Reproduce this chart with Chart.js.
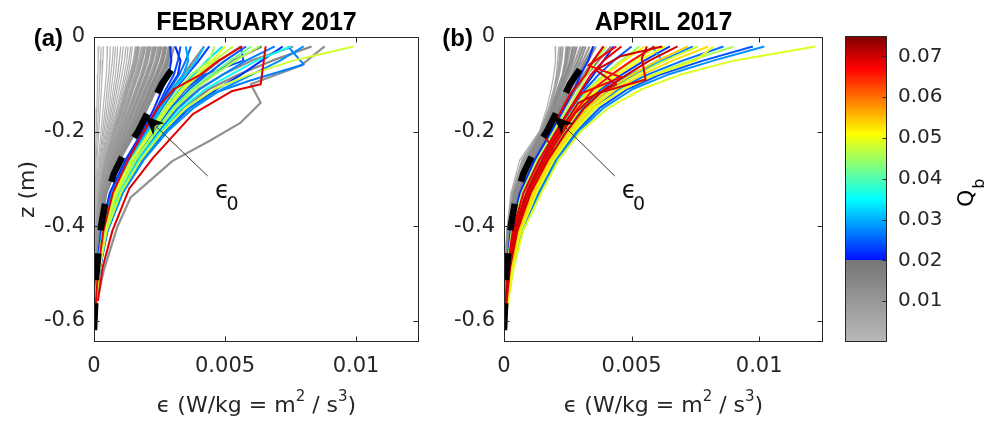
<!DOCTYPE html>
<html>
<head>
<meta charset="utf-8">
<title>Dissipation profiles</title>
<script src="https://cdn.jsdelivr.net/npm/chart.js@4.4.1/dist/chart.umd.min.js"></script>
<style>
  html, body { margin: 0; padding: 0; background: #fff; width: 999px; height: 425px; overflow: hidden; }
  canvas { position: absolute; top: 0; }
  #ca { left: 0; }
  #cb { left: 420px; }
  #cc { left: 830px; }
</style>
</head>
<body>
<canvas id="ca" width="420" height="425"></canvas>
<canvas id="cb" width="420" height="425"></canvas>
<canvas id="cc" width="169" height="425"></canvas>
<script>
// ---------------------------------------------------------------------------
// Data. Dissipation values are stored in units of 1e-3 W/kg.
// ---------------------------------------------------------------------------

// depth levels (m) of the regular profiles
const Z = [-0.02, -0.05, -0.08, -0.11, -0.15, -0.20, -0.26, -0.33, -0.41, -0.49, -0.57];

// ε0 reference profile
const EPS0_Z = [-0.62, -0.56, -0.51, -0.45, -0.40, -0.35, -0.29, -0.24, -0.20, -0.15, -0.10, -0.05];
const EPS0   = [0.0, 0.05, 0.08, 0.18, 0.27, 0.43, 0.75, 1.2, 1.68, 2.14, 2.58, 3.2];

// ε0 call-out (ε in W/kg, z in m)
const ARROW_TIP  = [0.00195, -0.167];
const ARROW_TAIL = [0.00434, -0.294];
const EPS0_LABEL_AT = [0.0049, -0.334];

// axes
const X_TICKS = [0, 0.005, 0.01];
const X_TICK_LABELS = ['0', '0.005', '0.01'];
const Y_TICKS = [-0.6, -0.4, -0.2, 0];
const Y_TICK_LABELS = ['-0.6', '-0.4', '-0.2', '0'];
const Y_MIN = -0.645;
const X_MAX_FEB = 0.0124;
const X_MAX_APR = 0.0125;
// x-axis title pieces: [text, isSuperscript]
const X_TITLE_PARTS = [['ϵ (W/kg = m', false], ['2', true], [' / s', false], ['3', true], [')', false]];
const Y_TITLE = 'z (m)';

// colour bar (Q_b)
const QB_SPLIT = 0.02;
const QB_MAX = 0.075;
const CB_TICKS = [0.01, 0.02, 0.03, 0.04, 0.05, 0.06, 0.07];
const CB_TICK_LABELS = ['0.01', '0.02', '0.03', '0.04', '0.05', '0.06', '0.07'];

// ---- February 2017: profiles with Q_b below 0.02 (on Z) ----
const FEB_GRAY = [
  [0.18, 0.16, 0.15, 0.13, 0.11, 0.08, 0.05, 0.03, 0.01, 0.0, 0.0],
  [0.27, 0.25, 0.23, 0.2, 0.17, 0.13, 0.08, 0.05, 0.02, 0.01, 0.0],
  [0.36, 0.34, 0.31, 0.28, 0.24, 0.18, 0.12, 0.07, 0.03, 0.01, 0.0],
  [0.52, 0.5, 0.47, 0.42, 0.35, 0.27, 0.17, 0.09, 0.04, 0.02, 0.01],
  [0.62, 0.6, 0.56, 0.5, 0.43, 0.33, 0.21, 0.11, 0.05, 0.02, 0.01],
  [0.74, 0.7, 0.64, 0.58, 0.5, 0.38, 0.24, 0.12, 0.05, 0.02, 0.01],
  [0.82, 0.78, 0.73, 0.66, 0.57, 0.43, 0.27, 0.14, 0.06, 0.02, 0.01],
  [0.9, 0.87, 0.82, 0.74, 0.63, 0.48, 0.3, 0.15, 0.07, 0.03, 0.01],
  [1.02, 0.97, 0.9, 0.81, 0.69, 0.52, 0.33, 0.16, 0.07, 0.03, 0.01],
  [1.12, 1.06, 0.98, 0.88, 0.75, 0.57, 0.35, 0.17, 0.08, 0.03, 0.01],
  [1.22, 1.16, 1.07, 0.96, 0.81, 0.61, 0.37, 0.18, 0.08, 0.03, 0.01],
  [1.3, 1.25, 1.16, 1.04, 0.88, 0.64, 0.39, 0.19, 0.08, 0.03, 0.01],
  [1.4, 1.33, 1.23, 1.1, 0.92, 0.68, 0.41, 0.19, 0.08, 0.03, 0.01],
  [1.46, 1.4, 1.3, 1.16, 0.97, 0.71, 0.43, 0.2, 0.09, 0.04, 0.01],
  [1.6, 1.52, 1.38, 1.22, 1.02, 0.74, 0.44, 0.21, 0.09, 0.04, 0.01],
  [1.66, 1.57, 1.43, 1.27, 1.06, 0.77, 0.45, 0.21, 0.1, 0.04, 0.01],
  [1.72, 1.63, 1.48, 1.31, 1.1, 0.8, 0.47, 0.22, 0.1, 0.04, 0.01],
  [1.83, 1.72, 1.57, 1.4, 1.17, 0.86, 0.51, 0.24, 0.11, 0.05, 0.02],
  [1.89, 1.78, 1.62, 1.44, 1.21, 0.9, 0.53, 0.25, 0.11, 0.05, 0.02],
  [1.95, 1.84, 1.68, 1.49, 1.25, 0.93, 0.55, 0.26, 0.12, 0.05, 0.02],
  [2.04, 1.95, 1.79, 1.6, 1.34, 1.0, 0.6, 0.28, 0.13, 0.05, 0.02],
  [2.1, 2.0, 1.83, 1.63, 1.37, 1.03, 0.62, 0.29, 0.13, 0.05, 0.02],
  [2.15, 2.04, 1.87, 1.67, 1.41, 1.06, 0.64, 0.3, 0.14, 0.06, 0.02],
  [2.24, 2.15, 1.97, 1.76, 1.49, 1.13, 0.69, 0.32, 0.15, 0.06, 0.02],
  [2.3, 2.2, 2.01, 1.8, 1.52, 1.16, 0.71, 0.33, 0.15, 0.06, 0.02],
  [2.36, 2.24, 2.06, 1.84, 1.56, 1.19, 0.73, 0.34, 0.16, 0.07, 0.02],
  [2.45, 2.35, 2.16, 1.93, 1.64, 1.26, 0.77, 0.36, 0.17, 0.07, 0.03],
  [2.5, 2.4, 2.2, 1.97, 1.68, 1.29, 0.79, 0.37, 0.17, 0.07, 0.03],
  [2.57, 2.44, 2.25, 2.01, 1.71, 1.32, 0.81, 0.38, 0.18, 0.08, 0.03],
  [2.66, 2.55, 2.35, 2.1, 1.79, 1.38, 0.85, 0.4, 0.19, 0.08, 0.03],
  [2.71, 2.6, 2.39, 2.14, 1.83, 1.42, 0.87, 0.41, 0.19, 0.08, 0.03],
  [2.76, 2.64, 2.43, 2.18, 1.86, 1.45, 0.89, 0.42, 0.2, 0.08, 0.03],
  [2.86, 2.74, 2.52, 2.26, 1.93, 1.51, 0.92, 0.44, 0.21, 0.09, 0.03],
  [2.9, 2.79, 2.56, 2.3, 1.96, 1.54, 0.94, 0.45, 0.21, 0.09, 0.03],
  [2.95, 2.84, 2.6, 2.33, 1.99, 1.56, 0.95, 0.46, 0.22, 0.09, 0.04],
  [3.05, 2.92, 2.67, 2.39, 2.04, 1.6, 0.98, 0.47, 0.23, 0.1, 0.04],
  [4.2, 3.8, 3.4, 3.0, 2.55, 2.0, 1.35, 0.72, 0.33, 0.13, 0.05],
  [5.6, 4.8, 4.1, 3.5, 2.85, 2.2, 1.48, 0.82, 0.38, 0.16, 0.06],
  [7.6, 6.0, 4.9, 4.0, 3.15, 2.4, 1.6, 0.9, 0.42, 0.18, 0.07],
  [8.3, 6.8, 5.5, 4.4, 3.4, 2.6, 1.74, 0.98, 0.46, 0.2, 0.08],
  [6.4, 5.3, 4.5, 3.8, 3.0, 2.3, 1.55, 0.86, 0.4, 0.17, 0.06]
];
const FEB_GRAY_QB = [0.001, 0.002, 0.002, 0.001, 0.003, 0.003, 0.002, 0.002,
  0.004, 0.004, 0.003, 0.003, 0.004, 0.004, 0.006, 0.007, 0.008, 0.005, 0.006,
  0.009, 0.007, 0.009, 0.010, 0.006, 0.010, 0.011, 0.008, 0.008, 0.012, 0.009,
  0.012, 0.013, 0.010, 0.011, 0.014, 0.011, 0.014, 0.016, 0.012, 0.015, 0.018];

// ---- February 2017: profiles with Q_b of 0.02 and above (on Z) ----
const FEB_COLOR = [
  [2.9, 2.95, 2.85, 2.6, 2.3, 1.85, 1.2, 0.6, 0.27, 0.11, 0.05],
  [3.3, 3.2, 3.05, 2.75, 2.4, 1.92, 1.26, 0.65, 0.3, 0.12, 0.05],
  [3.7, 3.5, 3.25, 2.9, 2.5, 2.0, 1.32, 0.7, 0.32, 0.13, 0.05],
  [4.4, 4.0, 3.55, 3.1, 2.62, 2.08, 1.38, 0.74, 0.34, 0.14, 0.06],
  [4.9, 4.3, 3.8, 3.3, 2.75, 2.16, 1.44, 0.78, 0.36, 0.15, 0.06],
  [5.3, 4.6, 4.0, 3.45, 2.85, 2.22, 1.48, 0.82, 0.38, 0.16, 0.06],
  [5.8, 5.0, 4.3, 3.65, 2.97, 2.3, 1.54, 0.86, 0.4, 0.17, 0.07],
  [6.3, 5.4, 4.6, 3.85, 3.1, 2.38, 1.6, 0.9, 0.42, 0.18, 0.07],
  [6.9, 5.8, 4.9, 4.05, 3.22, 2.46, 1.66, 0.94, 0.44, 0.19, 0.07],
  [7.5, 6.2, 5.2, 4.25, 3.35, 2.54, 1.72, 0.98, 0.46, 0.2, 0.08],
  [9.9, 7.6, 5.9, 4.6, 3.5, 2.62, 1.78, 1.02, 0.48, 0.21, 0.08],
  [7.2, 6.4, 5.6, 4.7, 3.65, 2.72, 1.84, 1.06, 0.5, 0.22, 0.08],
  [4.2, 3.9, 3.5, 3.05, 2.55, 2.04, 1.36, 0.72, 0.33, 0.13, 0.05],
  [5.0, 4.5, 3.9, 3.35, 2.78, 2.18, 1.46, 0.8, 0.37, 0.15, 0.06],
  [3.5, 3.6, 3.4, 3.0, 2.55, 2.02, 1.34, 0.7, 0.32, 0.13, 0.05],
  [3.1, 3.3, 3.2, 2.85, 2.45, 1.95, 1.28, 0.67, 0.3, 0.12, 0.05],
  [6.0, 5.2, 4.45, 3.75, 3.02, 2.34, 1.57, 0.88, 0.41, 0.17, 0.07],
  [8.0, 7.1, 6.0, 4.9, 3.8, 2.8, 1.9, 1.1, 0.52, 0.22, 0.08],
  [5.6, 5.7, 4.2, 3.5, 2.9, 2.25, 1.5, 0.84, 0.39, 0.16, 0.06],
  [4.6, 4.4, 3.7, 3.2, 2.68, 2.12, 1.42, 0.76, 0.35, 0.14, 0.06],
  [5.66, 4.75, 4.05, 3.05, 2.42, 1.9, 1.3, 0.72, 0.36, 0.16, 0.06]
];
const FEB_COLOR_QB = [0.022, 0.024, 0.026, 0.023, 0.033, 0.047, 0.025, 0.046,
  0.027, 0.036, 0.048, 0.022, 0.031, 0.049, 0.029, 0.021, 0.042, 0.028, 0.024,
  0.045, 0.068];

// ---- February 2017: profiles sampled on their own depths ----
const FEB_EXTRA_Z = [
  [-0.02, -0.06, -0.10, -0.139, -0.181, -0.22, -0.262, -0.339, -0.403, -0.494, -0.55],
  [-0.02, -0.058, -0.093, -0.12, -0.16, -0.21, -0.27, -0.34, -0.42, -0.50, -0.57],
  [-0.02, -0.10, -0.114, -0.163, -0.255, -0.32, -0.41, -0.487, -0.558]
];
const FEB_EXTRA_EPS = [
  [8.8, 7.9, 5.98, 6.36, 5.6, 4.4, 3.0, 1.4, 0.88, 0.37, 0.15],
  [7.4, 8.0, 5.9, 4.5, 3.4, 2.55, 1.72, 0.97, 0.45, 0.19, 0.07],
  [6.55, 6.36, 5.28, 3.77, 2.26, 1.35, 0.7, 0.33, 0.15]
];
const FEB_EXTRA_QB = [0.012, 0.027, 0.069];

// ---- April 2017: profiles with Q_b below 0.02 (on Z) ----
const APR_GRAY = [
  [2.0, 2.02, 1.95, 1.85, 1.68, 1.38, 0.62, 0.27, 0.11, 0.04, 0.01],
  [2.15, 2.1, 2.05, 1.95, 1.75, 1.42, 0.7, 0.31, 0.12, 0.05, 0.01],
  [2.22, 2.18, 2.1, 1.98, 1.78, 1.43, 0.74, 0.33, 0.13, 0.05, 0.01],
  [2.3, 2.25, 2.15, 2.0, 1.8, 1.44, 0.78, 0.35, 0.14, 0.05, 0.02],
  [2.45, 2.4, 2.3, 2.1, 1.85, 1.47, 0.84, 0.38, 0.15, 0.06, 0.02],
  [2.52, 2.45, 2.32, 2.12, 1.88, 1.48, 0.86, 0.39, 0.16, 0.06, 0.02],
  [2.6, 2.5, 2.35, 2.15, 1.9, 1.5, 0.88, 0.4, 0.17, 0.06, 0.02],
  [2.7, 2.6, 2.42, 2.2, 1.95, 1.55, 0.92, 0.42, 0.18, 0.07, 0.02],
  [2.78, 2.65, 2.46, 2.24, 1.98, 1.57, 0.94, 0.44, 0.19, 0.07, 0.02],
  [2.85, 2.7, 2.5, 2.28, 2.0, 1.58, 0.95, 0.45, 0.19, 0.07, 0.02],
  [3.0, 2.8, 2.55, 2.3, 2.02, 1.6, 0.98, 0.47, 0.2, 0.08, 0.02],
  [3.1, 2.9, 2.65, 2.4, 2.08, 1.65, 1.0, 0.5, 0.22, 0.08, 0.03],
  [3.2, 3.0, 2.72, 2.46, 2.12, 1.68, 1.03, 0.52, 0.23, 0.09, 0.03],
  [3.35, 3.1, 2.8, 2.52, 2.16, 1.72, 1.06, 0.54, 0.24, 0.09, 0.03],
  [3.5, 3.2, 2.9, 2.58, 2.2, 1.75, 1.1, 0.56, 0.25, 0.1, 0.03],
  [3.6, 3.3, 2.95, 2.62, 2.22, 1.78, 1.12, 0.58, 0.26, 0.1, 0.03],
  [3.9, 3.5, 3.1, 2.72, 2.3, 1.84, 1.18, 0.62, 0.28, 0.11, 0.04],
  [4.2, 3.7, 3.25, 2.82, 2.38, 1.9, 1.22, 0.66, 0.3, 0.12, 0.04]
];
const APR_GRAY_QB = [0.003, 0.004, 0.007, 0.006, 0.009, 0.012, 0.005, 0.014,
  0.009, 0.011, 0.007, 0.013, 0.011, 0.008, 0.015, 0.010, 0.012, 0.016];

// ---- April 2017: profiles with Q_b of 0.02 and above (on Z) ----
const APR_COLOR = [
  [3.5, 3.3, 3.0, 2.75, 2.35, 1.85, 1.2, 0.62, 0.26, 0.1, 0.04],
  [4.0, 3.6, 3.25, 2.95, 2.5, 1.95, 1.3, 0.7, 0.3, 0.12, 0.05],
  [4.6, 3.9, 3.4, 3.05, 2.6, 2.05, 1.38, 0.76, 0.34, 0.14, 0.05],
  [5.0, 4.3, 3.7, 3.2, 2.7, 2.1, 1.45, 0.82, 0.38, 0.16, 0.06],
  [5.5, 4.7, 4.0, 3.4, 2.8, 2.2, 1.52, 0.88, 0.41, 0.18, 0.06],
  [6.0, 5.1, 4.3, 3.6, 2.95, 2.3, 1.6, 0.94, 0.45, 0.2, 0.07],
  [6.5, 5.5, 4.6, 3.8, 3.05, 2.38, 1.66, 0.99, 0.48, 0.21, 0.07],
  [6.8, 5.7, 4.8, 3.95, 3.15, 2.45, 1.72, 1.04, 0.52, 0.23, 0.08],
  [7.2, 6.0, 5.0, 4.1, 3.25, 2.52, 1.78, 1.1, 0.55, 0.25, 0.08],
  [7.6, 6.3, 5.2, 4.25, 3.35, 2.6, 1.84, 1.16, 0.58, 0.27, 0.09],
  [8.6, 7.0, 5.6, 4.5, 3.5, 2.7, 1.9, 1.22, 0.62, 0.29, 0.1],
  [9.0, 7.3, 5.8, 4.65, 3.6, 2.76, 1.96, 1.28, 0.66, 0.31, 0.1],
  [9.75, 7.8, 6.1, 4.85, 3.75, 2.84, 2.02, 1.34, 0.69, 0.33, 0.11],
  [10.2, 8.2, 6.4, 5.05, 3.9, 2.92, 2.08, 1.4, 0.72, 0.35, 0.12],
  [12.2, 9.0, 6.9, 5.4, 4.1, 3.0, 2.14, 1.46, 0.75, 0.37, 0.13],
  [8.0, 6.6, 5.4, 4.4, 3.45, 2.66, 1.88, 1.2, 0.6, 0.28, 0.09],
  [4.3, 3.9, 3.5, 3.1, 2.6, 2.0, 1.34, 0.72, 0.32, 0.13, 0.05],
  [5.3, 4.6, 3.9, 3.3, 2.75, 2.15, 1.48, 0.84, 0.39, 0.17, 0.06],
  [5.9, 5.0, 4.2, 3.5, 2.9, 2.25, 1.56, 0.9, 0.43, 0.19, 0.07],
  [6.3, 5.3, 4.45, 3.7, 3.0, 2.34, 1.62, 0.96, 0.46, 0.2, 0.07],
  [7.4, 6.2, 5.1, 4.15, 3.3, 2.56, 1.8, 1.12, 0.56, 0.26, 0.08],
  [8.2, 7.5, 5.9, 4.7, 3.55, 2.72, 1.92, 1.25, 0.64, 0.3, 0.1],
  [5.8, 6.2, 4.9, 3.9, 3.1, 2.4, 1.68, 1.0, 0.5, 0.22, 0.07]
];
const APR_COLOR_QB = [0.022, 0.046, 0.068, 0.025, 0.052, 0.047, 0.023, 0.070,
  0.054, 0.048, 0.026, 0.046, 0.024, 0.028, 0.049, 0.053, 0.022, 0.045, 0.066,
  0.051, 0.027, 0.050, 0.030];

// ---- April 2017: profiles sampled on their own depths ----
const APR_EXTRA_Z = [
  [-0.02, -0.045, -0.09, -0.12, -0.16, -0.21, -0.27, -0.34, -0.42, -0.50, -0.57],
  [-0.02, -0.06, -0.085, -0.12, -0.16, -0.21, -0.27, -0.34, -0.42, -0.50, -0.57],
  [-0.02, -0.04, -0.07, -0.10, -0.14, -0.19, -0.25, -0.32, -0.40, -0.48, -0.57],
  [-0.02, -0.05, -0.08, -0.12, -0.17, -0.21, -0.24, -0.30, -0.37, -0.45, -0.57]
];
const APR_EXTRA_EPS = [
  [5.6, 5.4, 5.55, 3.6, 2.8, 2.2, 1.5, 0.9, 0.42, 0.18, 0.06],
  [4.4, 3.3, 4.6, 3.0, 2.5, 2.0, 1.4, 0.8, 0.36, 0.15, 0.05],
  [6.2, 4.6, 3.6, 4.4, 2.9, 2.3, 1.6, 0.95, 0.45, 0.2, 0.06],
  [3.9, 3.5, 3.2, 2.6, 2.1, 1.6, 1.95, 1.2, 0.65, 0.3, 0.06]
];
const APR_EXTRA_QB = [0.069, 0.067, 0.070, 0.068];

// ---------------------------------------------------------------------------
// Styling and helpers
// ---------------------------------------------------------------------------
const FONT = "'DejaVu Sans', sans-serif";
const BOLD_FONT = "'Liberation Sans', Arial, sans-serif";
const AXIS_COLOR = '#262626';
const EPS_SCALE = 1e-3;

Chart.defaults.font.family = FONT;
Chart.defaults.color = AXIS_COLOR;

function clamp01(v) { return Math.max(0, Math.min(1, v)); }
function jet(t) {
  const c = v => Math.round(255 * clamp01(v));
  return 'rgb(' + c(1.5 - Math.abs(4 * t - 3)) + ',' + c(1.5 - Math.abs(4 * t - 2)) + ',' + c(1.5 - Math.abs(4 * t - 1)) + ')';
}
// colour scale: gray ramp below the breaking threshold, jet above it
function qbColor(q) {
  if (q < QB_SPLIT) {
    const g = Math.round(185 - (185 - 118) * Math.max(0, q) / QB_SPLIT);
    return 'rgb(' + g + ',' + g + ',' + g + ')';
  }
  return jet(0.14 + 0.86 * (q - QB_SPLIT) / (QB_MAX - QB_SPLIT));
}
// line width by class: faint profiles thin, the rest a little heavier
function lineWidth(q) {
  if (q < 0.005) return 1.2;
  if (q < QB_SPLIT) return 2.2;
  return 2;
}

function buildDatasets(gray, grayQb, color, colorQb, extraZ, extraEps, extraQb) {
  const items = [];
  gray.forEach((e, i) => items.push({ z: Z, e, q: grayQb[i] }));
  color.forEach((e, i) => items.push({ z: Z, e, q: colorQb[i] }));
  extraEps.forEach((e, i) => items.push({ z: extraZ[i], e, q: extraQb[i] }));
  items.sort((a, b) => a.q - b.q);
  const sets = items.map(it => ({
    data: it.e.map((v, k) => ({ x: v * EPS_SCALE, y: it.z[k] })),
    borderColor: qbColor(it.q),
    borderWidth: lineWidth(it.q),
    borderJoinStyle: 'round',
    pointRadius: 0,
    showLine: true,
    tension: 0
  }));
  sets.push({
    data: EPS0.map((v, k) => ({ x: v * EPS_SCALE, y: EPS0_Z[k] })),
    borderColor: '#000',
    borderWidth: 6.5,
    borderDash: [27, 23],
    borderCapStyle: 'butt',
    pointRadius: 0,
    showLine: true,
    tension: 0
  });
  const n = sets.length;
  sets.forEach((s, i) => { s.order = n - i; });
  return sets;
}

// box with inward ticks on all four sides
const framePlugin = {
  id: 'frame',
  afterDatasetsDraw(chart) {
    const { ctx, chartArea: a, scales: { x, y } } = chart;
    const L = Math.round(a.left) + 0.5, R = Math.round(a.right) - 0.5;
    const T = Math.round(a.top) + 0.5, B = Math.round(a.bottom) - 0.5;
    ctx.save();
    ctx.strokeStyle = AXIS_COLOR;
    ctx.lineWidth = 1;
    ctx.strokeRect(L, T, R - L, B - T);
    ctx.beginPath();
    x.ticks.forEach(t => {
      const px = Math.round(x.getPixelForValue(t.value)) + 0.5;
      ctx.moveTo(px, B); ctx.lineTo(px, B - 5);
      ctx.moveTo(px, T); ctx.lineTo(px, T + 5);
    });
    y.ticks.forEach(t => {
      const py = Math.round(y.getPixelForValue(t.value)) + 0.5;
      ctx.moveTo(L, py); ctx.lineTo(L + 5, py);
      ctx.moveTo(R, py); ctx.lineTo(R - 5, py);
    });
    ctx.stroke();
    ctx.restore();
  }
};

// panel title, panel tag, x-axis title and the ε0 call-out
const decorPlugin = {
  id: 'decor',
  afterDraw(chart, args, opts) {
    const { ctx, chartArea: a, scales: { x, y } } = chart;
    ctx.save();
    ctx.fillStyle = '#000';
    ctx.textBaseline = 'middle';
    ctx.textAlign = 'center';
    ctx.font = 'bold 25px ' + BOLD_FONT;
    ctx.fillText(opts.title, (a.left + a.right) / 2, 23);
    ctx.textAlign = 'right';
    ctx.font = 'bold 24px ' + BOLD_FONT;
    ctx.fillText(opts.tag, a.left - 31, 39);

    // x-axis title with raised exponents
    const baseFont = '22px ' + FONT, supFont = '15px ' + FONT;
    ctx.textAlign = 'left';
    ctx.textBaseline = 'alphabetic';
    ctx.fillStyle = AXIS_COLOR;
    let total = 0;
    X_TITLE_PARTS.forEach(([t, sup]) => { ctx.font = sup ? supFont : baseFont; total += ctx.measureText(t).width; });
    let cx = (a.left + a.right) / 2 - total / 2;
    const baseY = 412;
    X_TITLE_PARTS.forEach(([t, sup]) => {
      ctx.font = sup ? supFont : baseFont;
      ctx.fillText(t, cx, sup ? baseY - 11 : baseY);
      cx += ctx.measureText(t).width;
    });

    // arrow
    const tx = x.getPixelForValue(ARROW_TIP[0]), ty = y.getPixelForValue(ARROW_TIP[1]);
    const sx = x.getPixelForValue(ARROW_TAIL[0]), sy = y.getPixelForValue(ARROW_TAIL[1]);
    const len = Math.hypot(sx - tx, sy - ty);
    const dx = (sx - tx) / len, dy = (sy - ty) / len;
    const nx = -dy, ny = dx;
    const HL = 19, HW = 8;
    ctx.strokeStyle = '#3c3c3c';
    ctx.lineWidth = 1;
    ctx.beginPath();
    ctx.moveTo(sx, sy);
    ctx.lineTo(tx + dx * HL * 0.6, ty + dy * HL * 0.6);
    ctx.stroke();
    ctx.beginPath();
    ctx.moveTo(tx, ty);
    ctx.lineTo(tx + dx * HL + nx * HW, ty + dy * HL + ny * HW);
    ctx.lineTo(tx + dx * HL * 0.72, ty + dy * HL * 0.72);
    ctx.lineTo(tx + dx * HL - nx * HW, ty + dy * HL - ny * HW);
    ctx.closePath();
    ctx.fillStyle = '#000';
    ctx.fill();

    // ε0 label
    const lx = x.getPixelForValue(EPS0_LABEL_AT[0]), ly = y.getPixelForValue(EPS0_LABEL_AT[1]);
    ctx.fillStyle = '#111';
    ctx.textAlign = 'center';
    ctx.textBaseline = 'middle';
    ctx.font = '24px ' + FONT;
    ctx.fillText('ϵ', lx, ly - 3);
    ctx.font = '19px ' + FONT;
    ctx.fillText('0', lx + 10, ly + 10);
    ctx.restore();
  }
};

function panelConfig(opts) {
  return {
    type: 'scatter',
    data: { datasets: opts.datasets },
    options: {
      responsive: false,
      animation: false,
      events: [],
      layout: { padding: { left: 0, right: opts.padRight, top: 37, bottom: 0 } },
      plugins: {
        legend: { display: false },
        tooltip: { enabled: false },
        decor: { title: opts.title, tag: opts.tag }
      },
      scales: {
        x: {
          type: 'linear', min: 0, max: opts.xMax,
          grid: { display: false, drawTicks: false },
          border: { display: false },
          afterBuildTicks: s => { s.ticks = X_TICKS.map(v => ({ value: v })); },
          afterFit: s => { s.height = 83; },
          ticks: {
            callback: (v, i) => X_TICK_LABELS[i],
            font: { family: FONT, size: 21 }, color: AXIS_COLOR,
            padding: 12, maxRotation: 0, autoSkip: false
          }
        },
        y: {
          type: 'linear', min: Y_MIN, max: 0,
          grid: { display: false, drawTicks: false },
          border: { display: false },
          afterBuildTicks: s => { s.ticks = Y_TICKS.map(v => ({ value: v })); },
          afterFit: s => { s.width = opts.yWidth; },
          ticks: {
            callback: (v, i) => Y_TICK_LABELS[i],
            font: { family: FONT, size: 21 }, color: AXIS_COLOR,
            padding: 9, autoSkip: false
          },
          title: {
            display: opts.showYTitle, text: Y_TITLE, color: AXIS_COLOR,
            font: { family: FONT, size: 22 }, padding: { top: 15, bottom: 0 }
          }
        }
      }
    },
    plugins: [framePlugin, decorPlugin]
  };
}

new Chart(document.getElementById('ca'), panelConfig({
  datasets: buildDatasets(FEB_GRAY, FEB_GRAY_QB, FEB_COLOR, FEB_COLOR_QB, FEB_EXTRA_Z, FEB_EXTRA_EPS, FEB_EXTRA_QB),
  title: 'FEBRUARY 2017', tag: '(a)', xMax: X_MAX_FEB, padRight: 1, yWidth: 94, showYTitle: true
}));

new Chart(document.getElementById('cb'), panelConfig({
  datasets: buildDatasets(APR_GRAY, APR_GRAY_QB, APR_COLOR, APR_COLOR_QB, APR_EXTRA_Z, APR_EXTRA_EPS, APR_EXTRA_QB),
  title: 'APRIL 2017', tag: '(b)', xMax: X_MAX_APR, padRight: 17, yWidth: 84, showYTitle: false
}));

// ---------------------------------------------------------------------------
// Colour bar
// ---------------------------------------------------------------------------
const colorbarPlugin = {
  id: 'colorbar',
  beforeDatasetsDraw(chart) {
    const { ctx, chartArea: a, scales: { y } } = chart;
    ctx.save();
    for (let py = Math.floor(a.top); py < Math.ceil(a.bottom); py++) {
      const v = y.getValueForPixel(py + 0.5);
      ctx.fillStyle = qbColor(v);
      ctx.fillRect(a.left, py, a.right - a.left, 1);
    }
    ctx.restore();
  },
  afterDraw(chart) {
    const { ctx, chartArea: a, scales: { y } } = chart;
    const L = Math.round(a.left) + 0.5, R = Math.round(a.right) - 0.5;
    const T = Math.round(a.top) + 0.5, B = Math.round(a.bottom) - 0.5;
    ctx.save();
    ctx.strokeStyle = AXIS_COLOR;
    ctx.lineWidth = 1;
    ctx.strokeRect(L, T, R - L, B - T);
    ctx.beginPath();
    y.ticks.forEach(t => {
      const py = Math.round(y.getPixelForValue(t.value)) + 0.5;
      ctx.moveTo(R, py); ctx.lineTo(R - 4, py);
    });
    ctx.stroke();
    // Q_b axis label, reading upwards
    ctx.translate(128, 190);
    ctx.rotate(-Math.PI / 2);
    ctx.fillStyle = '#000';
    ctx.textAlign = 'left';
    ctx.textBaseline = 'alphabetic';
    ctx.font = '22px ' + FONT;
    const wq = ctx.measureText('Q').width;
    ctx.fillText('Q', -17, 15);
    ctx.font = '16px ' + FONT;
    ctx.fillText('b', -17 + wq + 1, 26);
    ctx.restore();
  }
};

new Chart(document.getElementById('cc'), {
  type: 'scatter',
  data: { datasets: [] },
  options: {
    responsive: false,
    animation: false,
    events: [],
    layout: { padding: { left: 15, right: 0, top: 36, bottom: 83 } },
    plugins: { legend: { display: false }, tooltip: { enabled: false } },
    scales: {
      x: { display: false, min: 0, max: 1 },
      y: {
        position: 'right', min: 0, max: QB_MAX,
        grid: { display: false, drawTicks: false },
        border: { display: false },
        afterBuildTicks: s => { s.ticks = CB_TICKS.map(v => ({ value: v })); },
        afterFit: s => { s.width = 112; },
        ticks: {
          callback: (v, i) => CB_TICK_LABELS[i],
          font: { family: FONT, size: 20 }, color: AXIS_COLOR,
          padding: 11, autoSkip: false
        }
      }
    }
  },
  plugins: [colorbarPlugin]
});
</script>
</body>
</html>
